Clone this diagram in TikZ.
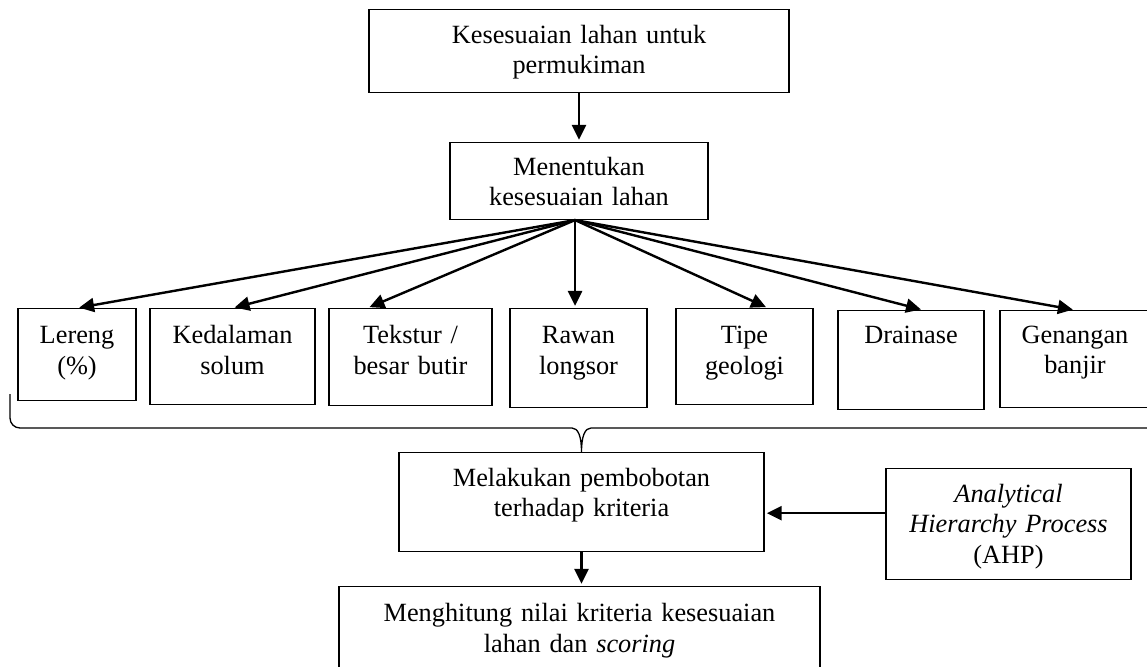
\documentclass[tikz,border=0pt]{standalone}
\usepackage{fontspec}
\setmainfont{Liberation Serif}
\usetikzlibrary{arrows.meta}

\begin{document}
\begin{tikzpicture}[x=0.456pt,y=-0.456pt,
	kotak/.style={draw,line width=0.6pt,anchor=north,align=center,inner sep=0pt,
		font=\fontsize{12}{13.8}\selectfont},
	panah/.style={-{Triangle[length=6.8pt,width=6.4pt]},line width=1.1pt,shorten >=1pt}]
	\useasboundingbox (0,0) rectangle (1147,666);
	\node[kotak,text width=191.5pt,text height=15.5pt,text depth=22.3pt] (s_0) at (579,9) {Kesesuaian lahan untuk\\permukiman};
	\node[kotak,text width=117.6pt,text height=15pt,text depth=20pt] (s_1) at (579,142) {Menentukan\\kesesuaian lahan};
	\node[kotak,text width=53.8pt,text height=16pt,text depth=26pt] (k_1) at (77,308) {Lereng\\(\%)};
	\node[kotak,text width=75.2pt,text height=16pt,text depth=27.8pt] (k_2) at (232.5,308) {Kedalaman\\solum};
	\node[kotak,text width=74.3pt,text height=16pt,text depth=28.3pt] (k_3) at (410.5,308) {Tekstur /\\besar butir};
	\node[kotak,text width=62.5pt,text height=16pt,text depth=29.2pt] (k_4) at (578.5,308) {Rawan\\longsor};
	\node[kotak,text width=62.5pt,text height=16pt,text depth=27.8pt] (k_5) at (744.5,308) {Tipe\\geologi};
	\node[kotak,text width=66.6pt,text height=15pt,text depth=30.1pt] (k_6) at (911,310) {Drainase};
	\node[kotak,text width=68.4pt,text height=15pt,text depth=29.2pt] (k_7) at (1075,310) {Genangan\\banjir};
	\node[kotak,text width=166.4pt,text height=15.5pt,text depth=29.6pt] (s_2) at (581.5,452) {Melakukan pembobotan\\terhadap kriteria};
	\node[kotak,text width=111.7pt,text height=15.5pt,text depth=35.1pt] (ahp) at (1008.5,468) {\textit{Analytical}\\\textit{Hierarchy Process}\\(AHP)};
	\node[kotak,text width=219.3pt,text height=16pt,text depth=45pt] (s_3) at (579.5,586) {Menghitung nilai kriteria kesesuaian\\lahan dan \textit{scoring}};
	\coordinate (f) at ([xshift=-1.8pt]s_1.south);
	\path[panah]
	 (s_0) edge (s_1)
	 (f) edge (k_1.north)
	     edge (k_2.north)
	     edge ([xshift=-19.6pt]k_3.north)
	     edge (f |- k_4.north)
	     edge ([xshift=10.7pt]k_5.north)
	     edge ([xshift=5.5pt]k_6.north)
	     edge (k_7.north)
	 ([yshift=5pt]ahp.west) edge ([yshift=5pt]ahp.west -| s_2.east)
	 (s_2.south) edge (s_2.south |- s_3.north);
	% kurung kurawal
	\draw[line width=0.6pt] (10,394) -- (10,418) to[out=-90,in=180] (20,428) -- (572,428)
	 .. controls (578,428) and (s_2.north |- 0,436) .. (s_2.north)
	 .. controls (s_2.north |- 0,436) and (585,428) .. (591,428) -- (1165,428);
\end{tikzpicture}
\end{document}
